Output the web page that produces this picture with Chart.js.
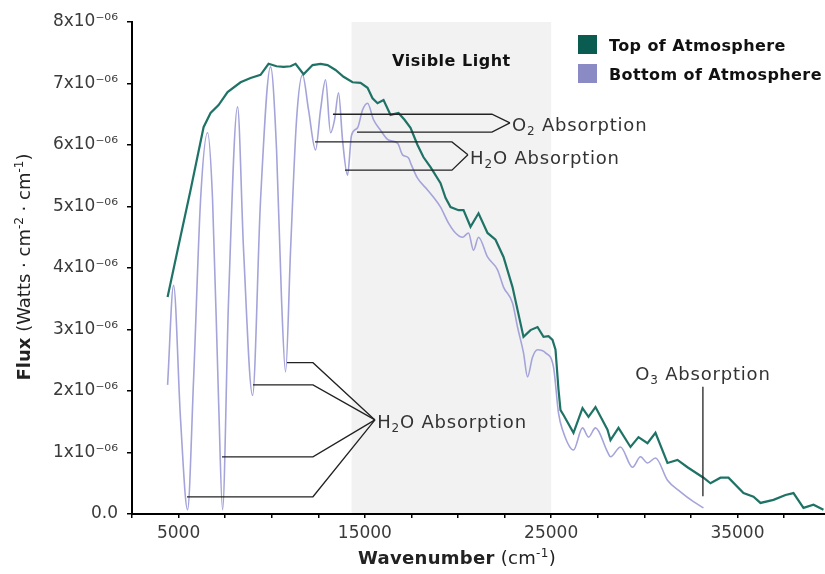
<!DOCTYPE html>
<html><head><meta charset="utf-8">
<script src="https://cdn.jsdelivr.net/npm/chart.js@4.4.0/dist/chart.umd.min.js"></script>
<style>html,body{margin:0;padding:0;background:#fff}#wrap{width:825px;height:574px}</style>
</head><body><div id="wrap"><canvas id="c" width="825" height="574"></canvas></div>
<script>
// ---- data (flux in units of 1e-6 W·cm^-2·cm^-1) ----
const topWavenumber = [4410,4946,5644,6342,6717,7147,7630,8328,8865,9401,9830,10260,10635,11011,11280,11709,12192,12621,12997,13426,13856,14339,14768,15144,15412,15680,16002,16378,16807,17129,17451,17827,18149,18525,19062,19330,19598,20027,20296,20672,21101,21584,22013,22443,22926,23194,23516,23892,24268,24590,24859,25073,25234,25395,25502,25663,26199,26683,27005,27380,28024,28185,28615,29259,29688,30171,30600,31244,31781,32318,33177,33553,34090,34519,35324,35861,36237,36935,37579,38008,38545,39082,39618];
const topFlux = [3.53,4.29,5.27,6.29,6.52,6.65,6.86,7.02,7.09,7.14,7.32,7.28,7.27,7.28,7.32,7.15,7.30,7.32,7.30,7.22,7.11,7.02,7.01,6.93,6.76,6.68,6.73,6.49,6.52,6.41,6.28,6.00,5.80,5.64,5.38,5.14,4.99,4.94,4.94,4.67,4.89,4.57,4.46,4.18,3.69,3.32,2.88,2.99,3.04,2.88,2.89,2.83,2.67,2.02,1.69,1.61,1.32,1.72,1.58,1.74,1.37,1.20,1.40,1.09,1.25,1.15,1.32,0.83,0.88,0.76,0.59,0.50,0.59,0.59,0.34,0.28,0.18,0.23,0.31,0.34,0.10,0.15,0.07];
const bottomWavenumber = [4410,4732,5107,5483,5805,6181,6556,6825,7147,7361,7683,8166,8489,8972,9401,9938,10260,10528,10743,11011,11333,11655,11977,12353,12621,12889,13158,13372,13587,13802,14070,14285,14607,14875,15144,15466,15841,16271,16754,17022,17344,17451,17827,18364,18686,19062,19491,19867,20242,20564,20832,21101,21584,22121,22443,22926,23194,23516,23731,23999,24268,24697,25126,25395,25609,26199,26683,27005,27380,28024,28185,28722,29366,29795,30171,30600,31244,31942,32640,33177];
const bottomFlux = [2.10,3.72,1.53,0.07,2.18,5.11,6.20,5.11,1.85,0.07,3.48,6.62,4.29,1.93,5.11,7.27,5.92,3.48,2.31,4.29,6.41,7.14,6.57,5.92,6.57,7.06,6.20,6.41,6.85,6.08,5.51,6.16,6.28,6.57,6.68,6.41,6.24,6.08,6.03,5.84,5.79,5.71,5.46,5.27,5.15,4.99,4.73,4.57,4.50,4.57,4.29,4.50,4.18,3.97,3.69,3.43,3.04,2.62,2.23,2.55,2.67,2.62,2.39,1.64,1.37,1.04,1.40,1.25,1.40,1.01,0.93,1.09,0.76,0.93,0.83,0.91,0.55,0.36,0.20,0.10];
const seriesNames = ['Top of Atmosphere','Bottom of Atmosphere'];
const xTickLabels = [5000,15000,25000,35000];
const yTickValues = [0,1,2,3,4,5,6,7,8];
const visibleRange = [14286,25000];

// ---- styling / annotation config ----
const FONT = '"DejaVu Sans", "Liberation Sans", sans-serif';
const TEAL = '#1f7366', LAV = '#a4a4da';
const annotations = {
  leaders: [
    [[13288,6.50],[21821,6.50],[22787,6.36]],
    [[14576,6.21],[21821,6.21],[22787,6.36]],
    [[12322,6.05],[19674,6.05],[20533,5.84]],
    [[13932,5.59],[19674,5.59],[20533,5.84]],
    [[10819,2.46],[12214,2.46],[15542,1.53]],
    [[8994,2.10],[12214,2.10],[15542,1.53]],
    [[7330,0.93],[12214,0.93],[15542,1.53]],
    [[5452,0.28],[12214,0.28],[15542,1.53]],
    [[33146,2.07],[33146,0.29]]
  ],
  labels: [
    {x:22900, y:6.34, align:'left', segs:[{t:'O'},{t:'2',sub:true},{t:' Absorption'}]},
    {x:20650, y:5.80, align:'left', segs:[{t:'H'},{t:'2',sub:true},{t:'O Absorption'}]},
    {x:15660, y:1.51, align:'left', segs:[{t:'H'},{t:'2',sub:true},{t:'O Absorption'}]},
    {x:33146, y:2.28, align:'center', segs:[{t:'O'},{t:'3',sub:true},{t:' Absorption'}]}
  ]
};

function segFont(s, size, bold){
  const sz = (s.sub||s.sup) ? Math.round(size*0.68) : size;
  return ((s.b||bold)?'bold ':'') + sz + 'px ' + FONT;
}
function drawRich(ctx, segs, x, cy, size, align, color, bold, spacing){
  ctx.save();
  ctx.fillStyle = color; ctx.textBaseline = 'alphabetic'; ctx.textAlign='left';
  ctx.letterSpacing = (spacing||0) + 'px';
  const w = segs.map(s=>{ctx.font=segFont(s,size,bold);return ctx.measureText(s.t).width;});
  const total = w.reduce((a,b)=>a+b,0);
  let cx = align==='center' ? x-total/2 : align==='right' ? x-total : x;
  const base = cy + size*0.36;
  segs.forEach((s,i)=>{
    ctx.font = segFont(s,size,bold);
    let yy = base;
    if (s.sub) yy = base + size*0.22;
    if (s.sup) yy = base - size*0.42;
    ctx.fillText(s.t, cx, yy);
    cx += w[i];
  });
  ctx.restore();
}

const decor = {
  id:'decor',
  beforeDatasetsDraw(chart){
    const {ctx, chartArea:a, scales:{x}} = chart;
    ctx.save();
    ctx.fillStyle = '#f2f2f2';
    const x0 = x.getPixelForValue(visibleRange[0]), x1 = x.getPixelForValue(visibleRange[1]);
    ctx.fillRect(x0, a.top, x1-x0, a.bottom-a.top-1);
    ctx.restore();
    drawRich(ctx, [{t:'Visible Light'}], (x0+x1)/2, 60, 16, 'center', '#111', true, 0.5);
  },
  afterDatasetsDraw(chart){
    const {ctx, scales:{x,y}} = chart;
    ctx.save();
    ctx.strokeStyle = '#222'; ctx.lineWidth = 1.3;
    annotations.leaders.forEach(pts=>{
      ctx.beginPath();
      pts.forEach((p,i)=>{
        const px = x.getPixelForValue(p[0]), py = y.getPixelForValue(p[1]);
        i ? ctx.lineTo(px,py) : ctx.moveTo(px,py);
      });
      ctx.stroke();
    });
    ctx.restore();
    annotations.labels.forEach(l=>{
      drawRich(ctx, l.segs, x.getPixelForValue(l.x), y.getPixelForValue(l.y), 18, l.align, '#333', false, 0.8);
    });
  },
  afterDraw(chart){
    const {ctx} = chart;
    const items = [[seriesNames[0],'#0b5c50'],[seriesNames[1],'#8a8ac4']];
    items.forEach((it,i)=>{
      ctx.fillStyle = it[1];
      ctx.fillRect(578, 35+i*29, 19, 19);
      drawRich(ctx, [{t:it[0]}], 609, 45+i*29, 16, 'left', '#111', true, 0.4);
    });
    drawRich(ctx, [{t:'Wavenumber',b:true},{t:' (cm'},{t:'-1',sup:true},{t:')'}], 457, 558, 18, 'center', '#222', false, 0.3);
    ctx.save();
    ctx.translate(24, 267); ctx.rotate(-Math.PI/2);
    drawRich(ctx, [{t:'Flux',b:true},{t:' (Watts · cm'},{t:'-2',sup:true},{t:' · cm'},{t:'-1',sup:true},{t:')'}], 0, 0, 18, 'center', '#222', false, 0);
    ctx.restore();
  }
};

const sup = {'0':'⁰','1':'¹','2':'²','3':'³','4':'⁴','5':'⁵','6':'⁶','7':'⁷','8':'⁸','9':'⁹','-':'⁻'};
const toSup = s => s.split('').map(c=>sup[c]||c).join('');

new Chart(document.getElementById('c'), {
  type:'line',
  data:{datasets:[
    {label:seriesNames[0], data: topWavenumber.map((v,i)=>({x:v,y:topFlux[i]})), borderColor:TEAL, borderWidth:2.2, pointRadius:0, tension:0, fill:false},
    {label:seriesNames[1], data: bottomWavenumber.map((v,i)=>({x:v,y:bottomFlux[i]})), borderColor:LAV, borderWidth:1.6, pointRadius:0, cubicInterpolationMode:'monotone', fill:false}
  ]},
  options:{
    responsive:false, animation:false, devicePixelRatio:1,
    layout:{padding:{top:22,right:0,bottom:0,left:0}},
    plugins:{legend:{display:false}, tooltip:{enabled:false}},
    scales:{
      x:{type:'linear', min:2500, max:39700,
        afterBuildTicks:s=>{const t=[];for(let v=2500;v<=37500;v+=2500)t.push({value:v});s.ticks=t;},
        afterFit:s=>{s.height=60;},
        ticks:{autoSkip:false, maxRotation:0, padding:5, color:'#3a3a3a', font:{family:FONT,size:17},
          callback:v=> xTickLabels.includes(v) ? String(v) : ''},
        grid:{drawOnChartArea:false, drawTicks:true, tickLength:4, color:'#000', lineWidth:1.5},
        border:{display:true, color:'#000', width:2}
      },
      y:{min:0, max:8,
        afterBuildTicks:s=>{s.ticks=yTickValues.map(v=>({value:v}));},
        afterFit:s=>{s.width=132;},
        ticks:{padding:9, color:'#3a3a3a', font:{family:FONT,size:17},
          callback:v=> v===0 ? '0.0' : v+'x10'+toSup('-06')},
        grid:{drawOnChartArea:false, drawTicks:true, tickLength:5, color:'#000', lineWidth:1.5},
        border:{display:true, color:'#000', width:2}
      }
    }
  },
  plugins:[decor]
});
</script></body></html>
